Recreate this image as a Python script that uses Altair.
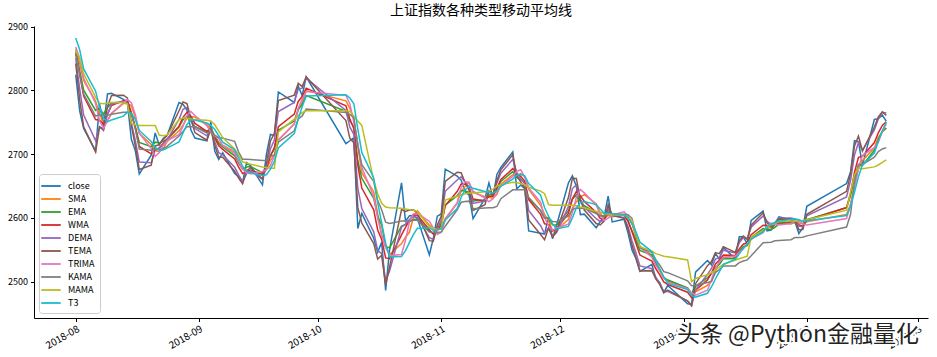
import altair as alt
import pandas as pd

TITLE = "上证指数各种类型移动平均线"
WATERMARK = "头条 @Python金融量化"

trade_days = {
    "2018-08": [1, 2, 3, 6, 7, 8, 9, 10, 13, 14, 15, 16, 17, 20, 21, 22, 23, 24, 27, 28, 29, 30, 31],
    "2018-09": [3, 4, 5, 6, 7, 10, 11, 12, 13, 14, 17, 18, 19, 20, 21, 25, 26, 27, 28],
    "2018-10": [8, 9, 10, 11, 12, 15, 16, 17, 18, 19, 22, 23, 24, 25, 26, 29, 30, 31],
    "2018-11": [1, 2, 5, 6, 7, 8, 9, 12, 13, 14, 15, 16, 19, 20, 21, 22, 23, 26, 27, 28, 29, 30],
    "2018-12": [3, 4, 5, 6, 7, 10, 11, 12, 13, 14, 17, 18, 19, 20, 21, 24, 25, 26, 27, 28],
    "2019-01": [2, 3, 4, 7, 8, 9, 10, 11, 14, 15, 16, 17, 18, 21, 22, 23, 24, 25, 28, 29, 30, 31],
    "2019-02": [1, 11, 12, 13, 14, 15, 18, 19, 20, 21],
}
dates = [f"{m}-{d:02d}T00:00:00" for m, ds in trade_days.items() for d in ds]

close = [2824.53, 2768.02, 2740.44, 2705.16, 2779.37, 2744.07, 2794.38, 2795.31, 2785.87, 2780.96,
         2723.26, 2705.19, 2668.97, 2698.47, 2733.32, 2714.61, 2724.62, 2729.43, 2780.90, 2777.98,
         2769.30, 2737.74, 2725.25, 2720.73, 2750.58, 2704.34, 2691.59, 2702.30, 2669.48, 2664.80,
         2656.11, 2686.58, 2681.64, 2651.79, 2699.95, 2730.85, 2729.24, 2797.49, 2781.14, 2806.81,
         2791.77, 2821.35, 2716.51, 2721.01, 2725.84, 2583.46, 2606.91, 2568.10, 2546.33, 2561.61,
         2486.42, 2550.47, 2654.88, 2594.83, 2603.30, 2603.80, 2598.85, 2542.10, 2568.05, 2602.78,
         2606.24, 2676.48, 2665.43, 2659.36, 2641.34, 2635.63, 2598.87, 2630.52, 2654.88, 2632.24,
         2668.17, 2679.11, 2703.51, 2645.43, 2651.51, 2645.85, 2579.48, 2575.81, 2574.68, 2601.74,
         2567.44, 2588.19, 2654.80, 2665.96, 2649.81, 2605.18, 2605.89, 2584.58, 2594.09, 2602.15,
         2634.05, 2593.74, 2597.97, 2576.65, 2549.56, 2536.27, 2516.25, 2527.01, 2504.82, 2498.29,
         2483.09, 2493.90, 2465.29, 2464.36, 2514.87, 2533.09, 2526.46, 2544.34, 2535.10, 2553.83,
         2535.77, 2570.42, 2570.34, 2559.64, 2596.01, 2610.51, 2579.70, 2581.00, 2591.69, 2601.72,
         2596.98, 2594.25, 2575.58, 2584.57, 2618.23, 2653.90, 2671.89, 2721.07, 2719.70, 2682.39,
         2754.36, 2755.65, 2761.22, 2751.80]

sma = [2865.2, 2842.4, 2815.6, 2782.8, 2763.4, 2747.2, 2752.4, 2763.4, 2779.6, 2780.0,
       2775.8, 2758.0, 2732.8, 2715.2, 2705.6, 2704.0, 2708.0, 2720.0, 2736.6, 2745.6,
       2756.4, 2759.0, 2758.2, 2746.2, 2740.8, 2727.8, 2718.6, 2714.0, 2703.6, 2686.4,
       2676.8, 2675.8, 2671.8, 2668.4, 2675.4, 2690.4, 2698.8, 2721.8, 2747.6, 2769.0,
       2781.2, 2799.6, 2783.6, 2771.6, 2755.4, 2713.6, 2670.8, 2641.0, 2606.0, 2573.2,
       2553.8, 2542.4, 2559.8, 2569.6, 2577.8, 2601.4, 2611.2, 2588.6, 2583.2, 2583.2,
       2583.6, 2599.0, 2623.6, 2641.8, 2649.4, 2655.4, 2640.0, 2633.2, 2632.4, 2630.6,
       2637.0, 2653.0, 2667.6, 2665.6, 2669.6, 2665.2, 2645.2, 2619.6, 2605.6, 2595.6,
       2579.8, 2581.6, 2597.4, 2615.6, 2625.2, 2632.8, 2636.4, 2622.4, 2608.0, 2598.4,
       2604.2, 2601.8, 2604.4, 2601.0, 2590.6, 2571.0, 2555.4, 2541.2, 2526.8, 2516.4,
       2505.8, 2501.4, 2489.0, 2480.8, 2484.2, 2494.2, 2500.6, 2516.4, 2530.6, 2538.4,
       2539.0, 2547.8, 2553.0, 2558.0, 2566.4, 2581.4, 2583.4, 2585.6, 2592.0, 2593.2,
       2590.4, 2593.2, 2592.2, 2590.8, 2594.0, 2605.4, 2621.0, 2650.0, 2677.0, 2689.8,
       2709.8, 2726.6, 2734.6, 2741.0]

ema = [2861.7, 2830.5, 2800.3, 2768.5, 2772.0, 2762.7, 2773.1, 2780.4, 2782.3, 2781.9,
       2762.3, 2743.2, 2718.5, 2711.7, 2718.8, 2717.5, 2720.0, 2723.0, 2742.3, 2754.2,
       2759.1, 2752.1, 2743.1, 2735.7, 2740.8, 2728.5, 2716.3, 2711.5, 2697.3, 2686.5,
       2676.3, 2679.9, 2680.6, 2671.1, 2680.7, 2697.5, 2708.0, 2737.7, 2752.1, 2770.4,
       2777.6, 2792.1, 2767.1, 2751.7, 2743.1, 2689.7, 2662.1, 2630.7, 2602.5, 2589.0,
       2554.7, 2553.1, 2587.1, 2589.7, 2594.1, 2597.4, 2597.9, 2579.3, 2575.5, 2584.7,
       2591.8, 2619.9, 2634.9, 2642.9, 2642.3, 2640.2, 2626.5, 2628.0, 2637.0, 2635.3,
       2646.2, 2657.1, 2672.7, 2663.5, 2659.7, 2655.1, 2629.7, 2611.8, 2599.5, 2600.3,
       2589.2, 2588.8, 2610.9, 2629.3, 2636.2, 2625.8, 2619.2, 2607.8, 2603.2, 2602.8,
       2613.2, 2606.8, 2603.9, 2594.9, 2579.9, 2565.3, 2548.9, 2541.6, 2529.4, 2518.9,
       2506.9, 2502.6, 2490.1, 2481.4, 2492.6, 2506.1, 2512.7, 2523.1, 2527.1, 2536.1,
       2536.1, 2547.4, 2554.9, 2556.6, 2569.7, 2583.5, 2582.3, 2581.9, 2585.3, 2590.9,
       2592.9, 2593.3, 2587.5, 2586.7, 2597.1, 2616.1, 2634.7, 2663.5, 2682.3, 2682.2,
       2706.1, 2722.7, 2735.5, 2741.0]

wma = [2857.7, 2825.3, 2791.2, 2754.3, 2753.1, 2746.6, 2762.2, 2776.4, 2783.9, 2784.4,
       2765.4, 2741.8, 2712.1, 2700.5, 2706.5, 2709.6, 2716.6, 2723.6, 2743.9, 2757.7,
       2765.5, 2759.4, 2748.1, 2735.7, 2737.3, 2725.0, 2713.1, 2707.5, 2692.5, 2679.7,
       2669.5, 2672.9, 2675.0, 2668.4, 2678.9, 2697.5, 2710.3, 2743.1, 2762.8, 2782.6,
       2790.3, 2803.5, 2776.0, 2755.1, 2739.9, 2682.5, 2646.9, 2612.7, 2581.0, 2566.3,
       2537.3, 2536.0, 2573.5, 2585.3, 2596.4, 2605.1, 2604.3, 2581.3, 2574.4, 2581.0,
       2588.6, 2619.4, 2641.4, 2653.2, 2652.9, 2648.5, 2629.7, 2626.7, 2633.9, 2633.8,
       2646.3, 2660.3, 2677.3, 2669.7, 2665.2, 2657.3, 2628.6, 2605.5, 2590.7, 2589.5,
       2579.9, 2582.7, 2607.1, 2630.0, 2641.5, 2634.7, 2625.8, 2608.7, 2599.2, 2597.2,
       2609.1, 2605.7, 2604.4, 2595.3, 2578.3, 2560.1, 2541.7, 2532.3, 2520.2, 2510.6,
       2499.5, 2495.5, 2483.4, 2475.1, 2486.5, 2502.7, 2513.3, 2527.8, 2534.0, 2541.8,
       2541.0, 2551.3, 2558.7, 2561.1, 2573.7, 2588.6, 2588.1, 2587.3, 2589.5, 2592.8,
       2594.1, 2595.3, 2589.5, 2587.1, 2596.2, 2616.2, 2638.4, 2671.7, 2695.1, 2696.7,
       2718.1, 2733.5, 2745.0, 2750.8]

dema = [2850.8, 2802.4, 2761.4, 2721.4, 2742.9, 2737.1, 2763.0, 2778.5, 2782.3, 2781.6,
        2749.0, 2721.6, 2687.6, 2686.6, 2706.8, 2708.6, 2715.7, 2722.1, 2754.6, 2770.3,
        2773.1, 2756.8, 2740.2, 2728.8, 2739.6, 2719.5, 2702.2, 2698.9, 2679.4, 2667.4,
        2656.8, 2669.3, 2674.0, 2660.4, 2680.0, 2708.2, 2722.1, 2766.9, 2781.2, 2802.0,
        2803.5, 2819.0, 2768.4, 2742.3, 2731.1, 2646.1, 2614.6, 2578.1, 2548.6, 2544.1,
        2501.9, 2516.8, 2585.6, 2590.4, 2597.5, 2601.9, 2601.2, 2569.1, 2566.2, 2584.6,
        2596.5, 2641.8, 2659.5, 2664.6, 2656.4, 2648.2, 2622.7, 2626.5, 2642.0, 2637.5,
        2654.9, 2670.2, 2691.8, 2670.1, 2661.6, 2653.3, 2611.6, 2587.8, 2575.3, 2584.7,
        2571.4, 2576.7, 2617.6, 2646.0, 2651.9, 2629.3, 2617.1, 2598.8, 2594.1, 2596.5,
        2615.9, 2604.3, 2600.3, 2586.5, 2564.3, 2545.2, 2524.6, 2520.5, 2507.2, 2497.1,
        2484.4, 2484.7, 2469.8, 2462.1, 2487.2, 2511.5, 2520.7, 2535.4, 2538.0, 2549.4,
        2545.0, 2560.9, 2568.9, 2567.1, 2585.4, 2603.2, 2594.6, 2589.8, 2592.8, 2599.6,
        2600.0, 2598.3, 2587.0, 2585.8, 2603.4, 2633.0, 2658.4, 2698.5, 2718.2, 2706.1,
        2738.0, 2755.0, 2765.6, 2764.7]

tema = [2842.2, 2785.2, 2742.7, 2703.5, 2742.9, 2739.4, 2774.9, 2791.9, 2792.5, 2788.2,
        2744.7, 2713.2, 2675.8, 2682.6, 2712.9, 2714.7, 2722.8, 2729.1, 2768.1, 2781.8,
        2779.4, 2754.8, 2733.8, 2721.8, 2738.7, 2713.7, 2695.0, 2695.1, 2673.3, 2662.6,
        2653.4, 2673.0, 2679.1, 2661.1, 2687.2, 2720.6, 2732.6, 2784.0, 2792.6, 2811.3,
        2805.9, 2821.2, 2752.8, 2724.8, 2717.7, 2616.1, 2592.0, 2559.6, 2535.4, 2541.3,
        2494.8, 2523.0, 2613.0, 2610.1, 2612.4, 2612.6, 2607.5, 2564.3, 2563.6, 2589.0,
        2602.7, 2657.4, 2671.7, 2670.8, 2655.5, 2643.5, 2611.7, 2620.7, 2642.5, 2636.0,
        2658.2, 2675.4, 2699.2, 2666.7, 2656.2, 2647.2, 2596.7, 2573.9, 2565.9, 2584.2,
        2569.6, 2579.3, 2631.9, 2662.2, 2662.0, 2627.9, 2612.4, 2591.1, 2588.9, 2594.9,
        2620.8, 2604.1, 2599.4, 2582.7, 2557.0, 2537.4, 2516.6, 2517.3, 2504.3, 2495.4,
        2482.8, 2486.7, 2469.5, 2462.6, 2496.8, 2525.1, 2531.5, 2545.5, 2543.8, 2554.9,
        2545.8, 2564.5, 2571.6, 2566.6, 2588.5, 2608.0, 2592.8, 2585.6, 2589.7, 2598.3,
        2598.0, 2595.6, 2581.6, 2581.9, 2605.6, 2641.6, 2668.7, 2712.9, 2728.4, 2704.9,
        2742.6, 2758.3, 2766.4, 2760.9]

trima = [2868.2, 2850.9, 2819.1, 2779.4, 2752.2, 2740.6, 2752.1, 2764.2, 2780.6, 2785.6,
         2780.8, 2762.3, 2732.9, 2708.7, 2696.6, 2702.0, 2713.2, 2720.9, 2730.8, 2743.6,
         2761.2, 2766.8, 2760.6, 2744.6, 2734.8, 2728.6, 2724.4, 2713.4, 2700.9, 2688.6,
         2676.6, 2670.4, 2669.2, 2672.7, 2675.6, 2682.0, 2697.4, 2722.2, 2747.1, 2772.1,
         2785.8, 2798.3, 2792.2, 2778.8, 2750.3, 2717.0, 2678.9, 2633.8, 2599.4, 2572.8,
         2554.6, 2540.9, 2542.6, 2565.4, 2593.8, 2606.1, 2606.8, 2594.8, 2584.4, 2574.1,
         2577.7, 2597.2, 2623.2, 2648.0, 2656.9, 2655.7, 2641.9, 2630.9, 2625.2, 2629.9,
         2639.8, 2650.2, 2665.0, 2673.1, 2675.6, 2663.6, 2646.8, 2624.6, 2600.9, 2587.1,
         2580.8, 2583.8, 2590.1, 2608.4, 2632.2, 2644.6, 2639.2, 2619.8, 2604.7, 2595.8,
         2599.6, 2604.6, 2609.6, 2602.8, 2591.1, 2573.0, 2554.4, 2538.2, 2525.4, 2517.4,
         2507.1, 2499.0, 2489.2, 2482.2, 2478.8, 2486.6, 2503.3, 2521.0, 2531.3, 2537.9,
         2540.3, 2546.4, 2551.2, 2559.6, 2566.9, 2577.0, 2586.7, 2591.8, 2590.2, 2588.9,
         2591.0, 2595.4, 2594.6, 2590.6, 2589.0, 2599.0, 2620.0, 2649.8, 2678.2, 2698.1,
         2710.2, 2719.0, 2735.4, 2748.0]

kama = [2858.4, 2825.8, 2794.0, 2759.8, 2761.6, 2760.2, 2760.8, 2762.7, 2765.6, 2765.7,
        2764.5, 2739.1, 2708.0, 2706.2, 2707.6, 2707.7, 2708.1, 2712.2, 2728.4, 2735.4,
        2743.2, 2743.1, 2743.0, 2733.2, 2734.3, 2730.0, 2726.0, 2725.1, 2720.0, 2703.2,
        2691.9, 2691.9, 2691.5, 2690.0, 2690.6, 2696.3, 2698.9, 2718.9, 2736.7, 2755.3,
        2759.9, 2770.9, 2765.5, 2762.3, 2757.2, 2712.6, 2683.6, 2656.8, 2627.2, 2612.9,
        2593.2, 2591.1, 2595.1, 2595.1, 2595.3, 2596.4, 2596.5, 2577.9, 2577.4, 2577.5,
        2577.7, 2587.0, 2612.8, 2624.5, 2625.8, 2626.3, 2614.2, 2615.5, 2615.8, 2616.0,
        2617.9, 2630.1, 2644.0, 2644.0, 2644.2, 2644.3, 2632.2, 2611.5, 2599.8, 2600.1,
        2594.2, 2594.1, 2602.9, 2613.2, 2615.6, 2615.1, 2614.9, 2607.0, 2603.3, 2603.1,
        2606.1, 2605.9, 2605.7, 2604.9, 2599.4, 2574.9, 2553.0, 2545.9, 2534.6, 2525.9,
        2515.6, 2514.1, 2501.4, 2493.6, 2494.1, 2498.6, 2500.3, 2514.3, 2519.1, 2524.6,
        2524.7, 2529.8, 2532.5, 2534.2, 2540.6, 2561.1, 2561.4, 2561.8, 2564.0, 2564.5,
        2565.9, 2569.3, 2569.4, 2569.8, 2571.8, 2585.7, 2605.3, 2656.7, 2684.1, 2683.9,
        2695.3, 2704.0, 2708.1, 2710.2]

mama = [2862, 2850, 2826, 2789, 2780, 2779, 2780, 2781, 2781, 2779,
        2748, 2746, 2745, 2745, 2745, 2730, 2729, 2730, 2754, 2757,
        2756, 2755, 2754, 2753, 2752, 2746, 2736, 2726, 2708, 2698,
        2688, 2686, 2684, 2680, 2679, 2678, 2678, 2735, 2755, 2760,
        2765, 2768, 2768, 2767, 2760, 2752, 2745, 2659, 2638, 2623,
        2617, 2616, 2615, 2614, 2613, 2612, 2610, 2586, 2584, 2582,
        2583, 2628, 2634, 2636, 2638, 2639, 2639, 2641, 2642, 2645,
        2650, 2652, 2656, 2655, 2654, 2652, 2648, 2642, 2638, 2621,
        2620, 2620, 2620, 2620, 2619, 2617, 2616, 2610, 2609, 2607,
        2606, 2605, 2604, 2601, 2596, 2575, 2555, 2548, 2544, 2542,
        2540, 2539, 2534, 2500, 2505, 2511, 2514, 2518, 2523, 2527,
        2534, 2536, 2538, 2540, 2570, 2580, 2586, 2589, 2591, 2594,
        2595, 2595, 2596, 2596, 2597, 2612, 2640, 2668, 2678, 2677,
        2680, 2683, 2687, 2691]

t3 = [2882.0, 2863.7, 2833.7, 2798.8, 2773.9, 2756.5, 2750.7, 2753.7, 2759.6, 2765.8,
      2764.1, 2754.7, 2737.2, 2719.8, 2710.8, 2706.3, 2706.4, 2709.4, 2719.2, 2733.2,
      2746.6, 2753.7, 2753.6, 2748.8, 2745.2, 2738.7, 2728.9, 2718.8, 2706.7, 2694.0,
      2681.2, 2673.6, 2670.2, 2666.6, 2667.7, 2676.4, 2688.6, 2709.8, 2732.2, 2755.5,
      2774.3, 2791.2, 2793.0, 2788.1, 2779.1, 2739.4, 2702.7, 2662.6, 2624.1, 2592.3,
      2560.5, 2538.7, 2539.5, 2548.7, 2561.5, 2574.1, 2583.8, 2584.3, 2580.6, 2580.5,
      2583.4, 2596.6, 2614.8, 2632.4, 2644.0, 2649.5, 2646.4, 2641.3, 2640.1, 2639.1,
      2642.4, 2649.6, 2660.9, 2667.1, 2668.4, 2666.1, 2653.9, 2635.6, 2616.3, 2602.6,
      2590.6, 2582.7, 2586.6, 2600.1, 2615.4, 2624.0, 2625.5, 2620.9, 2613.8, 2607.4,
      2607.2, 2606.4, 2604.4, 2600.0, 2590.9, 2578.1, 2561.9, 2547.3, 2532.9, 2519.9,
      2507.2, 2497.2, 2487.5, 2478.1, 2475.8, 2481.8, 2491.9, 2504.2, 2515.6, 2527.1,
      2535.0, 2543.6, 2552.3, 2559.0, 2567.3, 2578.2, 2586.0, 2590.1, 2592.4, 2595.1,
      2597.5, 2598.8, 2597.1, 2594.2, 2595.5, 2603.7, 2618.2, 2640.3, 2664.9, 2682.9,
      2701.8, 2720.3, 2737.2, 2749.7]

series_names = ["close", "SMA", "EMA", "WMA", "DEMA", "TEMA", "TRIMA", "KAMA", "MAMA", "T3"]
series_values = [close, sma, ema, wma, dema, tema, trima, kama, mama, t3]
colors = ["#1f77b4", "#ff7f0e", "#2ca02c", "#d62728", "#9467bd",
          "#8c564b", "#e377c2", "#7f7f7f", "#bcbd22", "#17becf"]

rows = []
for name, vals in zip(series_names, series_values):
    for d, v in zip(dates, vals):
        rows.append({"date": d, "value": v, "series": name})
df = pd.DataFrame(rows)

FONT = "Noto Sans CJK SC"

month_ticks = [alt.DateTime(year=2018, month=m, date=1) for m in (8, 9, 10, 11, 12)] + \
              [alt.DateTime(year=2019, month=m, date=1) for m in (1, 2, 3)]

x_enc = alt.X(
    "date:T",
    title=None,
    scale=alt.Scale(domain=[alt.DateTime(year=2018, month=7, date=21, hours=12),
                            alt.DateTime(year=2019, month=3, date=3, hours=12)]),
    axis=alt.Axis(values=month_ticks, format="%Y-%m", labelAngle=-30, labelFontSize=10,
                  labelAlign="right", labelBaseline="top", labelPadding=2),
)
y_enc = alt.Y(
    "value:Q",
    title=None,
    scale=alt.Scale(domain=[2443, 2901], nice=False, zero=False),
    axis=alt.Axis(values=[2500, 2600, 2700, 2800, 2900], format="d", labelPadding=3),
)
color_enc = alt.Color(
    "series:N",
    scale=alt.Scale(domain=series_names, range=colors),
    legend=alt.Legend(
        title=None, orient="bottom-left", offset=5,
        symbolType="M-1.65,0H1.65", symbolSize=140, symbolStrokeWidth=1.8,
        labelFontSize=9, labelFont=FONT, labelColor="black", labelLimit=80,
        padding=5, rowPadding=1, strokeColor="#cccccc",
        fillColor="white", cornerRadius=3, labelOffset=10, symbolOpacity=1,
    ),
)

layers = []
for name in series_names:
    layers.append(
        alt.Chart(df)
        .transform_filter(alt.datum.series == name)
        .mark_line(strokeWidth=1.5)
        .encode(x=x_enc, y=y_enc, color=color_enc)
    )

wm_df = pd.DataFrame({"t": [WATERMARK]})
wm_halo = alt.Chart(wm_df).mark_text(
    font=FONT, fontSize=23, align="center", baseline="middle",
    color="white", stroke="white", strokeWidth=4,
).encode(text="t:N", x=alt.value(764), y=alt.value(309))
wm_text = alt.Chart(wm_df).mark_text(
    font=FONT, fontSize=23, align="center", baseline="middle", color="#222222",
).encode(text="t:N", x=alt.value(764), y=alt.value(309))

chart = (
    alt.layer(*layers, wm_halo, wm_text)
    .properties(
        width=894,
        height=292,
        autosize=alt.AutoSizeParams(type="none"),
        padding={"left": 34, "top": 26, "right": 9, "bottom": 39},
        background="white",
        title=alt.TitleParams(text=TITLE, font=FONT, fontSize=14, fontWeight="normal",
                              color="black", anchor="middle", offset=5),
    )
    .configure_view(strokeWidth=0)
    .configure_axis(
        grid=False, domainColor="black", domainWidth=1, tickColor="black",
        tickSize=3.5, labelColor="black", labelFont=FONT, labelFontSize=9,
    )
)

chart.save("out.html", embed_options={"renderer": "svg", "actions": False})
